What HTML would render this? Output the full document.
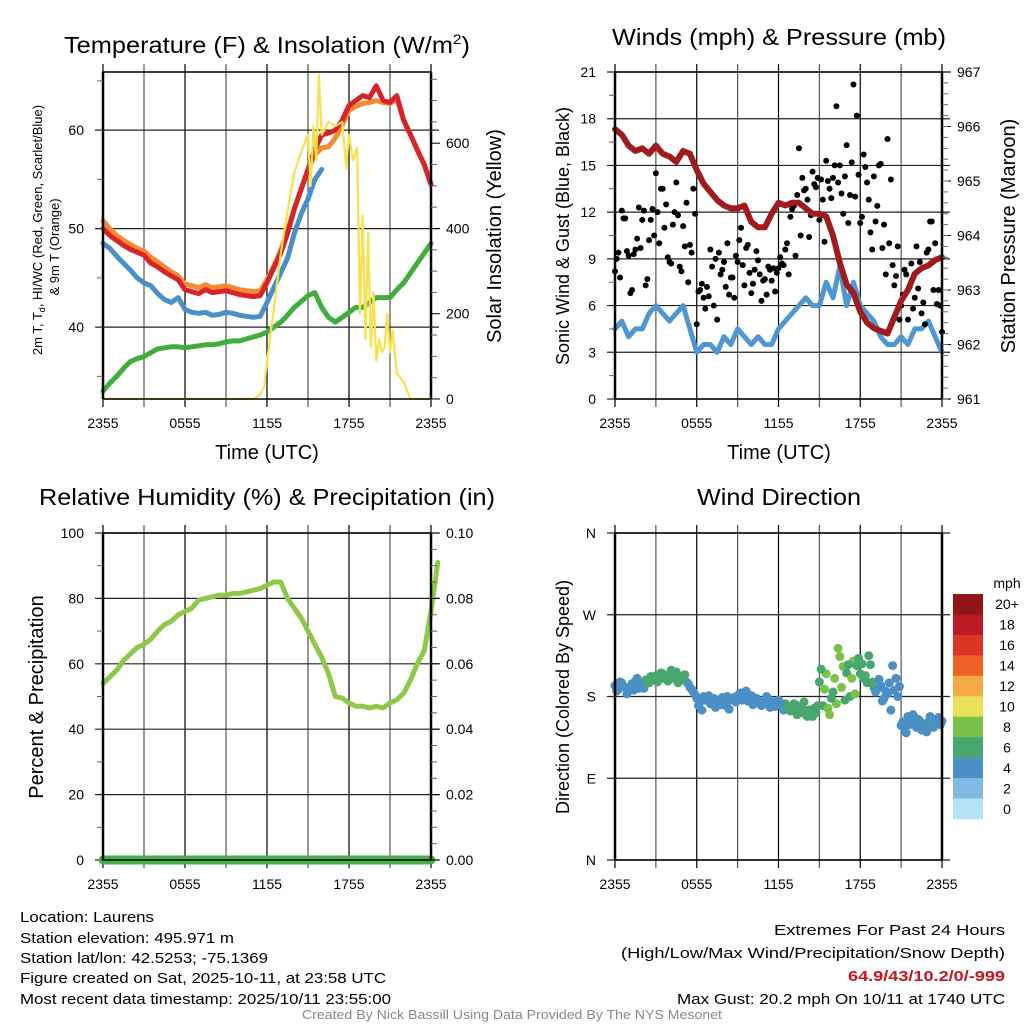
<!DOCTYPE html>
<html><head><meta charset="utf-8"><style>
html,body{margin:0;padding:0;background:#fff;}
svg{display:block;font-family:"Liberation Sans",sans-serif;}
.t{font-size:14px;fill:#000;}
</style></head><body>
<svg id="chart" width="1024" height="1024" viewBox="0 0 1024 1024" xmlns="http://www.w3.org/2000/svg">
<rect width="1024" height="1024" fill="#fff"/>
<g id="grid"></g>
<g id="marks"></g>
<g id="frames"></g>
<text x="267" y="53" font-size="23" text-anchor="middle" textLength="406" lengthAdjust="spacingAndGlyphs">Temperature (F) &amp; Insolation (W/m<tspan dy="-9" font-size="14">2</tspan><tspan dy="9">)</tspan></text>
<text x="779" y="45" font-size="23" text-anchor="middle" textLength="334" lengthAdjust="spacingAndGlyphs">Winds (mph) &amp; Pressure (mb)</text>
<text x="267" y="505" font-size="23" text-anchor="middle" textLength="456" lengthAdjust="spacingAndGlyphs">Relative Humidity (%) &amp; Precipitation (in)</text>
<text x="779" y="505" font-size="23" text-anchor="middle" textLength="164" lengthAdjust="spacingAndGlyphs">Wind Direction</text>
<text x="267" y="459" font-size="20" text-anchor="middle">Time (UTC)</text>
<text x="779" y="459" font-size="20" text-anchor="middle">Time (UTC)</text>
<text transform="translate(42,230) rotate(-90)" font-size="13" text-anchor="middle">2m T, T<tspan dy="3" font-size="9">d</tspan><tspan dy="-3">, HI/WC (Red, Green, Scarlet/Blue)</tspan></text>
<text transform="translate(59,247) rotate(-90)" font-size="13" text-anchor="middle">&amp; 9m T (Orange)</text>
<text transform="translate(501,236) rotate(-90)" font-size="20" text-anchor="middle">Solar Insolation (Yellow)</text>
<text transform="translate(569,236) rotate(-90)" font-size="18" text-anchor="middle">Sonic Wind &amp; Gust (Blue, Black)</text>
<text transform="translate(1015,236) rotate(-90)" font-size="20" text-anchor="middle">Station Pressure (Maroon)</text>
<text transform="translate(43,697) rotate(-90)" font-size="20" text-anchor="middle">Percent &amp; Precipitation</text>
<text transform="translate(569,697) rotate(-90)" font-size="18" text-anchor="middle">Direction (Colored By Speed)</text>
<g id="cbar"></g>
<text x="1007" y="588" font-size="14" text-anchor="middle">mph</text>
<g font-size="15">
<text x="20" y="922" textLength="134" lengthAdjust="spacingAndGlyphs">Location: Laurens</text>
<text x="20" y="943" textLength="214" lengthAdjust="spacingAndGlyphs">Station elevation: 495.971 m</text>
<text x="20" y="963" textLength="248" lengthAdjust="spacingAndGlyphs">Station lat/lon: 42.5253; -75.1369</text>
<text x="20" y="983" textLength="366" lengthAdjust="spacingAndGlyphs">Figure created on Sat, 2025-10-11, at 23:58 UTC</text>
<text x="20" y="1004" textLength="371" lengthAdjust="spacingAndGlyphs">Most recent data timestamp: 2025/10/11 23:55:00</text>
</g>
<g font-size="15" text-anchor="end">
<text x="1005" y="935" textLength="231" lengthAdjust="spacingAndGlyphs">Extremes For Past 24 Hours</text>
<text x="1005" y="958" textLength="384" lengthAdjust="spacingAndGlyphs">(High/Low/Max Wind/Precipitation/Snow Depth)</text>
<text x="1005" y="981" fill="#c8141e" font-weight="bold" textLength="157" lengthAdjust="spacingAndGlyphs">64.9/43/10.2/0/-999</text>
<text x="1005" y="1004" textLength="328" lengthAdjust="spacingAndGlyphs">Max Gust: 20.2 mph On 10/11 at 1740 UTC</text>
</g>
<text x="512" y="1019" font-size="12.5" fill="#888" text-anchor="middle" textLength="420" lengthAdjust="spacingAndGlyphs">Created By Nick Bassill Using Data Provided By The NYS Mesonet</text>
</svg>
<script>
const timeLabels = ["2355","0555","1155","1755","2355"];
const tempRed = [50,49.3,48.8,48.3,47.9,47.6,47.3,46.5,46.1,45.6,45.2,44.8,43.8,43.6,43.4,43.8,43.5,43.6,43.7,43.5,43.3,43.2,43.1,43.2,44.5,46,47.5,49.5,52,54,56,58,59.5,59.7,60,61,62.5,63,63.5,63.3,64.5,63,62.8,63.5,61,59.5,58,56.5,54.5];
const temp9m = [50.8,50,49.3,48.8,48.4,48,47.7,47.1,46.6,46.1,45.6,45.2,44.4,44.2,44,44.3,44,44.1,44.2,44,43.8,43.7,43.6,43.7,44.8,46.2,47.8,49.8,52,54,56,57.5,58.2,58.3,59.2,60.5,62,62.4,62.7,62.8,63,62.8,62.7,63.2,61,59.6,58,56.5,54.5];
const tempHI = [48.5,48,47.2,46.5,45.8,45,44.5,44.2,43.4,42.8,42.5,43,41.8,41.5,41.4,41.5,41.2,41.3,41.5,41.4,41.2,41.1,41,41.1,42.5,44,45.5,47,49.5,51.5,53,55,56];
const tempDew = [33.5,34.3,35,35.8,36.5,36.8,37,37.4,37.8,37.9,38,38,37.9,38,38.1,38.2,38.2,38.3,38.5,38.6,38.6,38.8,39,39.2,39.5,40,40.5,41.2,42,42.6,43.2,43.5,42,41,40.5,41,41.5,42,42,42.5,43,43,43,43.8,44.5,45.5,46.5,47.5,48.5];
const solarT = [0,11,11.5,11.8,12,12.5,13,13.5,14,14.5,15,15.2,15.4,15.6,15.8,16,16.5,17,17.5,17.8,18,18.3,18.6,18.8,19,19.2,19.4,19.6,19.8,20,20.2,20.4,20.6,20.8,21,21.2,21.5,22,22.5,24];
const solarV = [0,0,10,30,90,210,340,440,530,580,620,500,640,560,760,620,650,640,650,540,620,560,590,200,430,140,390,120,250,90,140,110,120,200,110,160,60,40,0,0];
const windSpd = [4.5,5,4,4.5,4.5,5.5,6,5.5,5,5.5,6,4.5,3,3.5,3.5,3,4,3.5,4.5,4,3.5,4,3.5,3.5,4.5,5,5.5,6,6.5,6,6,7.5,6.5,8.5,6,7.5,6,5.5,5,4,3.5,3.5,4,3.5,4.5,4.5,5,4,3];
const pressure = [965.95,965.85,965.65,965.55,965.6,965.5,965.65,965.5,965.45,965.35,965.55,965.5,965.2,964.95,964.8,964.65,964.55,964.5,964.5,964.55,964.25,964.15,964.15,964.4,964.6,964.55,964.6,964.6,964.5,964.4,964.4,964.35,964,963.5,963.1,962.95,962.6,962.4,962.3,962.25,962.2,962.5,962.8,963,963.3,963.4,963.45,963.55,963.6];
const gust = [8.2,9.4,12.1,11.6,9.2,7.0,9.6,12.3,11.5,7.3,10.2,12.2,
14.5,10.0,13.5,12.5,8.8,11.2,13.9,8.5,11.1,12.6,9.9,13.5,
4.8,7.0,6.5,7.2,9.6,6.0,5.1,8.0,8.8,10.0,7.8,6.5,
8.8,11.0,7.3,9.9,6.8,8.3,8.9,6.3,7.7,8.5,7.6,6.9,
8.4,8.7,9.6,8.0,12.2,9.2,16.1,14.2,13.5,10.4,14.6,13.6,
11.5,12.8,15.3,13.5,14.2,18.8,15.0,11.9,16.3,13.1,20.2,18.2,
11.3,15.7,13.9,10.7,14.3,12.4,15.1,11.2,16.7,14.1,7.3,9.8,
6.0,8.3,5.1,8.7,6.5,7.1,5.5,4.8,9.6,11.4,10.0,7.0,4.3];
const gustB = [9.0,7.8,11.6,9.5,6.8,9.3,10.3,9.7,12.1,7.7,11.5,10.5,
12.0,13.5,11.0,9.1,8.7,12.0,11.8,8.2,9.8,7.5,9.4,11.9,
6.9,7.4,5.8,6.6,8.5,9.0,9.4,8.3,7.2,6.7,7.8,9.2,
10.2,8.6,9.7,8.1,7.4,9.5,8.0,7.6,6.7,8.3,8.4,8.1,
9.1,8.6,10.0,11.7,12.4,13.1,10.5,13.4,12.8,11.8,13.8,14.2,
14.1,10.1,14.0,12.9,15.0,13.9,13.2,14.3,11.3,15.2,13.0,14.4,
11.7,14.9,12.8,9.6,11.4,15.0,9.7,8.0,10.0,8.6,7.9,5.1,
6.7,8.0,7.2,5.8,9.8,8.8,6.2,9.4,11.4,7.0,6.1,6.0];
const windDir = [192,188,195,190,186,194,197,189,193,198,195,201,
203,199,205,201,204,200,207,198,202,196,190,185,
178,174,180,176,172,178,175,171,177,180,176,179,
181,184,178,175,181,173,176,170,174,177,172,169,
176,170,172,168,166,171,163,167,160,165,158,162,
196,170,205,160,185,172,224,213,206,180,219,214,
205,200,195,215,190,188,192,178,183,165,187,180,
148,145,158,152,150,155,143,148,152,155,150,157,153];
const windDirB = [186,196,191,183,190,187,200,193,189,195,202,198,
196,206,200,197,209,203,195,199,204,194,188,182,
170,165,176,181,173,168,174,179,170,166,178,174,
183,176,186,179,171,178,174,172,180,168,174,171,
172,165,169,164,172,160,168,174,158,163,167,170,
210,188,167,178,200,233,190,176,215,200,183,222,
216,203,225,196,185,199,175,186,195,214,200,191,
152,140,149,160,146,153,150,141,158,146,153,149];
const relHum = [54,56,58,61,63,65,66,67.5,70,72,73,75,76,77,79.5,80,80.5,81,81,81.5,81.5,82,82.5,83,84,85,85,80,77,74,70,66,62,57,50,49.5,48,47,47,46.5,47,46.5,48,49,51,55,60,64,76,91];
const precip = [0,0,0,0,0,0,0,0,0,0,0,0,0,0,0,0,0,0,0,0,0,0,0,0,0];
const cbarLabels = ["20+","18","16","14","12","10","8","6","4","2","0"];
const cbarColors = ["#911518","#bb1c23","#dc3528","#ef6229","#f5a845","#e8e25a","#7cc14a","#4aa66f","#4a8fc6","#7fbae2","#b6e2f6"];

const NS="http://www.w3.org/2000/svg";
function mk(tag, attrs, parent){const e=document.createElementNS(NS,tag);for(const k in attrs)e.setAttribute(k,attrs[k]);parent.appendChild(e);return e;}
const G=document.getElementById('grid'), M=document.getElementById('marks'), F=document.getElementById('frames'), CB=document.getElementById('cbar');
const P1={x0:103,x1:431,y0:72,y1:399}, P2={x0:615,x1:942,y0:72,y1:399}, P3={x0:103,x1:431,y0:533,y1:860}, P4={x0:615,x1:942,y0:533,y1:860};
function xs(P,h){return P.x0+h/24*(P.x1-P.x0);}
function lin(P,lo,hi){return v=>P.y1-(v-lo)/(hi-lo)*(P.y1-P.y0);}
const yT=lin(P1,32.7,65.9), yS=lin(P1,0,767), yW=lin(P2,0,21), yP=lin(P2,961,967), yR=lin(P3,0,100), yPr=lin(P3,0,0.1), yD=lin(P4,0,360);

function frame(P, name){
  for(let i=0;i<=8;i++){const x=xs(P,i*3);
    const l=mk('line',{x1:x,x2:x,y1:P.y0-8,y2:P.y1+8,stroke:(i%2?'#555':'#000'),'stroke-width':1.2},G);
    
    }
  const r=mk('rect',{x:P.x0,y:P.y0,width:P.x1-P.x0,height:P.y1-P.y0,fill:'none',stroke:'#000','stroke-width':1.5},F);
  
  
  const lb=mk('line',{x1:P.x0,x2:P.x0,y1:P.y0,y2:P.y1,stroke:'#000','stroke-width':2.5},F);
  
  
  const rb=mk('line',{x1:P.x1,x2:P.x1,y1:P.y0,y2:P.y1,stroke:'#000','stroke-width':2.5},F);
  
  
  for(let i=0;i<timeLabels.length;i++){
    const t=mk('text',{x:xs(P,i*6),y:P.y1+29,'text-anchor':'middle',class:'t'},F);
    
    
    t.textContent=timeLabels[i];}
}
function hgrid(P,ys,vals,fmt,side,name,gridOn){
  vals.forEach(v=>{const y=ys(v);
    if(gridOn){const l=mk('line',{x1:P.x0-8,x2:P.x1+8,y1:y,y2:y,stroke:'#222','stroke-width':1.2},G);
      
      }
    else {const l=mk('line',{x1:P.x1,x2:P.x1+9,y1:y,y2:y,stroke:'#000','stroke-width':1},F);
      
      }
    const t=mk('text',{x:side==='l'?P.x0-19:P.x1+15,y:y+5,'text-anchor':side==='l'?'end':'start',class:'t'},F);
    
    
    t.textContent=fmt(v);});
}
function minor(P,ys,vals,side){vals.forEach(v=>{const y=ys(v);const x=side==='l'?P.x0:P.x1;
  const l=mk('line',{x1:x,x2:side==='l'?x-6:x+6,y1:y,y2:y,stroke:'#666','stroke-width':1},F);
  
  });}
function line(P,ts,vs,ys,color,w,name){
  const pts=vs.map((v,i)=>xs(P,ts(i)).toFixed(1)+','+ys(v).toFixed(1)).join(' ');
  const l=mk('polyline',{points:pts,fill:'none',stroke:color,'stroke-width':w,'stroke-linejoin':'round','stroke-linecap':'round'},M);
  
  
}
const half=i=>i*0.5, hour=i=>i;

frame(P1,'temp');
hgrid(P1,yT,[40,50,60],v=>v,'l','temp-y',true);
minor(P1,yT,[35,45,55,65],'l');
hgrid(P1,yS,[0,200,400,600],v=>v,'r','solar-y',false);
minor(P1,yS,[50,100,150,250,300,350,450,500,550,650,700,750],'r');
line(P1,half,tempDew,yT,'#3fae3d',5,'dewpoint-line');
line(P1,half,temp9m,yT,'#f58a33',5,'temp-9m-line');
line(P1,half,tempHI,yT,'#4a8fc8',5,'heat-index-line');
line(P1,half,tempRed,yT,'#d8232a',5,'temp-2m-line');
line(P1,i=>solarT[i],solarV,yS,'#f9e04d',2.2,'solar-line');

frame(P2,'wind');
hgrid(P2,yW,[0,3,6,9,12,15,18,21],v=>v,'l','wind-y',true);
minor(P2,yW,[1.5,4.5,7.5,10.5,13.5,16.5,19.5],'l');
hgrid(P2,yP,[961,962,963,964,965,966,967],v=>v,'r','pressure-y',false);
const pm=[];for(let p=961;p<967;p+=0.2){pm.push(p);} minor(P2,yP,pm,'r');
line(P2,half,windSpd,yW,'#4f96d2',5,'wind-speed-line');
gust.forEach((g,i)=>{const c=mk('circle',{cx:xs(P2,i*0.25),cy:yW(g),r:3,fill:'#000'},M);
  
  });
gustB.forEach((g,i)=>{const c=mk('circle',{cx:xs(P2,i*0.25+0.125),cy:yW(g),r:3,fill:'#000'},M);
  
  });
line(P2,half,pressure,yP,'#a01b1d',6,'pressure-line');

frame(P3,'rh');
hgrid(P3,yR,[0,20,40,60,80,100],v=>v,'l','rh-y',true);
minor(P3,yR,[10,30,50,70,90],'l');
hgrid(P3,yPr,[0,0.02,0.04,0.06,0.08,0.1],v=>v.toFixed(2),'r','precip-y',false);
minor(P3,yPr,[0.005,0.01,0.015,0.025,0.03,0.035,0.045,0.05,0.055,0.065,0.07,0.075,0.085,0.09,0.095],'r');
line(P3,hour,precip,yPr,'#45b048',9,'precip-line');
line(P3,half,relHum,yR,'#8dc84a',5,'rh-line');

frame(P4,'dir');
const dirLabels=['N','E','S','W','N'];
[0,90,180,270,360].forEach((d,i)=>{const y=yD(d);
  const l=mk('line',{x1:P4.x0-8,x2:P4.x1+8,y1:y,y2:y,stroke:'#222','stroke-width':1.2},G);
  
  
  const t=mk('text',{x:P4.x0-19,y:y+5,'text-anchor':'end',class:'t'},F);
  
  
  t.textContent=dirLabels[i];});
function spdAt(h){const i=Math.min(Math.floor(h*2),windSpd.length-2);const f=h*2-i;return windSpd[i]*(1-f)+windSpd[i+1]*f;}
function dirPoint(h,d){const s=spdAt(h);let k=Math.round(s/2);k=Math.max(0,Math.min(10,k));
  const c=mk('circle',{cx:xs(P4,h),cy:yD(d),r:4.5,fill:cbarColors[10-k]},M);
  
  }
windDir.forEach((d,i)=>dirPoint(i*0.25,d));
windDirB.forEach((d,i)=>dirPoint(i*0.25+0.125,d));
const cbY0=594, cbH=225/11;
cbarColors.forEach((col,i)=>{const r=mk('rect',{x:953,y:cbY0+i*cbH,width:30,height:cbH+0.3,fill:col},CB);
  
  
  const t=mk('text',{x:1007,y:cbY0+i*cbH+cbH/2+5,'text-anchor':'middle',class:'t'},CB);
  
  
  t.textContent=cbarLabels[i];});
</script>
</body></html>
